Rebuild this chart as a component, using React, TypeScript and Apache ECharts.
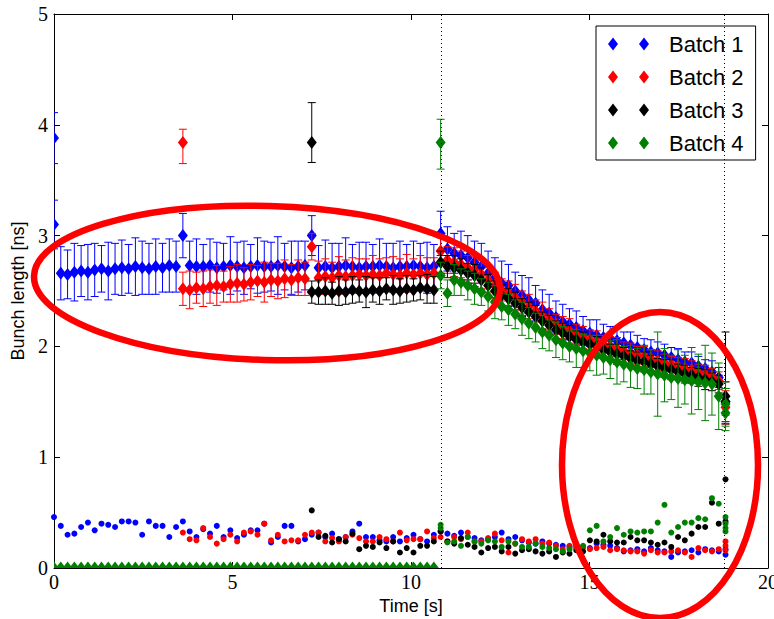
import React, { useEffect, useRef } from 'react';
import * as echarts from 'echarts';

// Sampling period of the bunch-length measurement [s]
const DT = 0.19;

// Dotted markers on the time axis [s]
const dottedTimes = [10.84, 18.77];

// ---- Batch 1 (from sample 0) ----
const batch1Start = 0;
const batch1Length = [
  3.10,
  2.66, 2.65, 2.67, 2.68, 2.67, 2.69, 2.70, 2.68, 2.70, 2.71, 2.70, 2.72, 2.71, 2.70, 2.72, 2.71, 2.73, 2.72,
  3.00,
  2.73, 2.72, 2.72, 2.73, 2.71, 2.72, 2.73, 2.72, 2.71, 2.72, 2.73, 2.72, 2.72, 2.73, 2.72, 2.71, 2.72, 2.73,
  3.00,
  2.71, 2.72, 2.71, 2.72, 2.73, 2.72, 2.71, 2.72, 2.72, 2.73, 2.72, 2.71, 2.72, 2.72, 2.73, 2.72, 2.71, 2.72,
  3.02,
  2.88, 2.84, 2.82, 2.80, 2.76, 2.72, 2.66, 2.62, 2.57, 2.55, 2.50, 2.46, 2.42, 2.39, 2.33, 2.30, 2.26, 2.22, 2.20, 2.17,
  2.14, 2.12, 2.10, 2.08, 2.07, 2.05, 2.03, 2.01, 1.99, 1.97, 1.95, 1.94, 1.92, 1.90, 1.88, 1.86, 1.85, 1.82, 1.80, 1.77,
  1.72,
  1.50,
];
const batch1Err = [
  0.22,
  0.24, 0.22, 0.26, 0.23, 0.25, 0.24, 0.21, 0.26, 0.23, 0.25, 0.22, 0.26, 0.24, 0.23, 0.25, 0.22, 0.24, 0.23,
  0.20,
  0.22, 0.25, 0.20, 0.24, 0.23, 0.21, 0.26, 0.22, 0.24, 0.20, 0.25, 0.23, 0.22, 0.26, 0.21, 0.24, 0.23, 0.22,
  0.18,
  0.20, 0.24, 0.22, 0.21, 0.25, 0.20, 0.23, 0.22, 0.20, 0.24, 0.21, 0.22, 0.23, 0.20, 0.22, 0.21, 0.23, 0.20,
  0.20,
  0.20, 0.18, 0.22, 0.20, 0.19, 0.21, 0.20, 0.18, 0.20, 0.19, 0.17, 0.18, 0.20, 0.16, 0.18, 0.17, 0.15, 0.16, 0.14, 0.15,
  0.13, 0.12, 0.14, 0.12, 0.11, 0.12, 0.10, 0.12, 0.11, 0.10, 0.11, 0.10, 0.10, 0.09, 0.10, 0.09, 0.10, 0.09, 0.08, 0.10,
  0.09,
  0.12,
];
// [sample index, value, error down, error up]
const batch1Extra = [[0, 3.88, 0.23, 0.23]];
const batch1Spread = [
  0.46, 0.38, 0.30, 0.31, 0.37, 0.41, 0.34, 0.40, 0.39, 0.37,
  0.42, 0.42, 0.41, 0.30, 0.42, 0.38, 0.38, 0.28, 0.37, 0.42,
  0.33, 0.28, 0.35, 0.31, 0.38, 0.28, 0.34, 0.27, 0.30, 0.34,
  0.34, 0.40, 0.23, 0.28, 0.38, 0.38, 0.24, 0.26, 0.30, 0.32,
  0.28, 0.31, 0.26, 0.28, 0.33, 0.40, 0.28, 0.28, 0.25, 0.24,
  0.28, 0.24, 0.27, 0.30, 0.26, 0.24, 0.30, 0.33, 0.31, 0.29,
  0.32, 0.28, 0.27, 0.25, 0.26, 0.28, 0.32, 0.26, 0.28, 0.25,
  0.23, 0.22, 0.24, 0.22, 0.21, 0.20, 0.19, 0.21, 0.19, 0.18,
  0.22, 0.21, 0.20, 0.18, 0.15, 0.16, 0.17, 0.15, 0.18, 0.16,
  0.15, 0.10, 0.14, 0.15, 0.16, 0.14, 0.17, 0.16, 0.15, 0.12,
];
const batch1SpreadExtra = [[99, 0.17]];

// ---- Batch 2 (from sample 19) ----
const batch2Start = 19;
const batch2Length = [
  2.52, 2.51, 2.53, 2.52, 2.54, 2.55, 2.54, 2.56, 2.57, 2.56, 2.58, 2.59, 2.58, 2.60, 2.59, 2.61, 2.60, 2.62, 2.61,
  2.90,
  2.62, 2.63, 2.62, 2.64, 2.63, 2.64, 2.65, 2.64, 2.65, 2.64, 2.66, 2.65, 2.64, 2.66, 2.65, 2.66, 2.65, 2.66,
  2.86,
  2.78, 2.76, 2.74, 2.71, 2.69, 2.65, 2.60, 2.55, 2.51, 2.48, 2.44, 2.40, 2.36, 2.32, 2.28, 2.24, 2.20, 2.17, 2.14, 2.11,
  2.08, 2.06, 2.04, 2.02, 2.00, 1.98, 1.96, 1.94, 1.92, 1.91, 1.89, 1.87, 1.85, 1.84, 1.82, 1.80, 1.79, 1.77, 1.75, 1.73,
  1.69,
  1.45,
];
const batch2Err = [
  0.15, 0.17, 0.14, 0.16, 0.15, 0.18, 0.14, 0.16, 0.17, 0.15, 0.16, 0.14, 0.18, 0.15, 0.16, 0.17, 0.14, 0.16, 0.15,
  0.12,
  0.15, 0.16, 0.14, 0.17, 0.15, 0.16, 0.14, 0.15, 0.17, 0.15, 0.14, 0.16, 0.15, 0.17, 0.14, 0.16, 0.15, 0.14,
  0.12,
  0.12, 0.13, 0.12, 0.11, 0.12, 0.13, 0.11, 0.12, 0.10, 0.11, 0.12, 0.10, 0.11, 0.10, 0.12, 0.10, 0.09, 0.10, 0.11, 0.09,
  0.10, 0.09, 0.10, 0.08, 0.09, 0.10, 0.08, 0.09, 0.08, 0.09, 0.08, 0.09, 0.08, 0.07, 0.08, 0.09, 0.08, 0.07, 0.08, 0.07,
  0.08,
  0.15,
];
const batch2Extra = [[19, 3.84, 0.19, 0.12]];
const batch2Spread = [
  0.32, 0.26, 0.25, 0.36, 0.28, 0.22, 0.26, 0.30, 0.24, 0.32,
  0.33, 0.30, 0.40, 0.25, 0.30, 0.24, 0.25, 0.25, 0.30, 0.32,
  0.32, 0.24, 0.27, 0.24, 0.28, 0.30, 0.27, 0.24, 0.24, 0.28,
  0.26, 0.24, 0.32, 0.25, 0.26, 0.26, 0.33, 0.27, 0.28, 0.24,
  0.28, 0.26, 0.32, 0.24, 0.24, 0.27, 0.31, 0.25, 0.14, 0.22,
  0.26, 0.24, 0.26, 0.22, 0.23, 0.20, 0.17, 0.20, 0.18, 0.19,
  0.17, 0.18, 0.19, 0.16, 0.17, 0.16, 0.15, 0.15, 0.13, 0.16,
  0.14, 0.14, 0.15, 0.16, 0.14, 0.10, 0.18, 0.16, 0.15, 0.17,
  0.20,
];
const batch2SpreadExtra = [[99, 0.16], [99, 0.24]];

// ---- Batch 3 (from sample 38) ----
const batch3Start = 38;
const batch3Length = [
  2.49,
  2.49, 2.50, 2.48, 2.50, 2.49, 2.51, 2.50, 2.49, 2.51, 2.50, 2.52, 2.51, 2.50, 2.52, 2.51, 2.53, 2.52, 2.51,
  2.76,
  2.72, 2.71, 2.69, 2.66, 2.64, 2.60, 2.55, 2.50, 2.46, 2.43, 2.39, 2.35, 2.31, 2.27, 2.23, 2.19, 2.15, 2.12, 2.09, 2.06,
  2.04, 2.02, 2.00, 1.97, 1.95, 1.93, 1.91, 1.89, 1.87, 1.86, 1.84, 1.82, 1.80, 1.79, 1.77, 1.75, 1.74, 1.72, 1.70, 1.68,
  1.66,
  1.50,
];
const batch3Err = [
  0.10,
  0.11, 0.12, 0.10, 0.13, 0.11, 0.12, 0.10, 0.14, 0.11, 0.12, 0.10, 0.13, 0.11, 0.12, 0.10, 0.11, 0.13, 0.12,
  0.10,
  0.10, 0.11, 0.10, 0.09, 0.10, 0.11, 0.10, 0.09, 0.10, 0.09, 0.10, 0.08, 0.09, 0.10, 0.08, 0.09, 0.08, 0.09, 0.10, 0.08,
  0.09, 0.08, 0.09, 0.08, 0.07, 0.09, 0.08, 0.07, 0.08, 0.09, 0.08, 0.07, 0.08, 0.09, 0.07, 0.08, 0.07, 0.08, 0.09, 0.08,
  0.08,
  0.18,
];
const batch3Extra = [[38, 3.84, 0.18, 0.36], [99, 1.55, 0.25, 0.58]];
const batch3Spread = [
  0.52, 0.28, 0.29, 0.23, 0.26, 0.24, 0.31, 0.17, 0.20, 0.19,
  0.23, 0.18, 0.24, 0.14, 0.18, 0.14, 0.20, 0.20, 0.24, 0.33,
  0.24, 0.22, 0.27, 0.21, 0.19, 0.14, 0.18, 0.19, 0.15, 0.19,
  0.13, 0.16, 0.17, 0.15, 0.13, 0.15, 0.10, 0.14, 0.13, 0.16,
  0.15, 0.25, 0.24, 0.30, 0.24, 0.23, 0.23, 0.28, 0.25, 0.25,
  0.23, 0.21, 0.23, 0.19, 0.28, 0.25, 0.31, 0.37, 0.37, 0.59,
  0.40, 0.80,
];
const batch3SpreadExtra = [[99, 0.42]];

// ---- Batch 4 (zero until injection at sample 57) ----
const batch4Start = 0;
const batch4Length = [
  0, 0, 0, 0, 0, 0, 0, 0, 0, 0, 0, 0, 0, 0, 0, 0, 0, 0, 0, 0,
  0, 0, 0, 0, 0, 0, 0, 0, 0, 0, 0, 0, 0, 0, 0, 0, 0, 0, 0, 0,
  0, 0, 0, 0, 0, 0, 0, 0, 0, 0, 0, 0, 0, 0, 0, 0, 0,
  2.64,
  2.48, 2.60, 2.58, 2.55, 2.52, 2.49, 2.45, 2.40, 2.36, 2.33, 2.29, 2.25, 2.21, 2.17, 2.13, 2.10, 2.06, 2.03, 2.00, 1.98,
  1.96, 1.94, 1.92, 1.90, 1.88, 1.86, 1.84, 1.82, 1.80, 1.79, 1.77, 1.75, 1.74, 1.72, 1.71, 1.70, 1.69, 1.68, 1.67, 1.66,
  1.55,
  1.48,
];
const batch4Err = [
  0, 0, 0, 0, 0, 0, 0, 0, 0, 0, 0, 0, 0, 0, 0, 0, 0, 0, 0, 0,
  0, 0, 0, 0, 0, 0, 0, 0, 0, 0, 0, 0, 0, 0, 0, 0, 0, 0, 0, 0,
  0, 0, 0, 0, 0, 0, 0, 0, 0, 0, 0, 0, 0, 0, 0, 0, 0,
  0.12,
  0.12, 0.14, 0.12, 0.13, 0.14, 0.12, 0.13, 0.15, 0.12, 0.14, 0.13, 0.15, 0.14, 0.13, 0.15, 0.14, 0.16, 0.15, 0.14, 0.17,
  0.15, 0.16, 0.18, 0.15, 0.17, 0.20, 0.16, 0.19, 0.18, 0.22, 0.20, 0.38, 0.24, 0.20, 0.26, 0.22, 0.30, 0.25, 0.34, 0.28,
  0.30,
  0.20,
];
const batch4Extra = [[57, 3.84, 0.24, 0.21], [99, 1.40, 0.16, 0.22]];
const batch4SpreadStart = 57;
const batch4Spread = [
  0.39, 0.23, 0.24, 0.20, 0.28, 0.24, 0.22, 0.25, 0.24, 0.19,
  0.24, 0.22, 0.19, 0.19, 0.22, 0.19, 0.18, 0.17, 0.15, 0.17,
  0.19, 0.20, 0.34, 0.38, 0.24, 0.28, 0.36, 0.30, 0.33, 0.32,
  0.33, 0.33, 0.41, 0.57, 0.32, 0.37, 0.41, 0.41, 0.45, 0.44,
  0.63, 0.58, 0.40,
];
const batch4SpreadExtra = [[57, 0.36], [99, 0.33], [99, 0.46], [99, 0.36]];

const batches = [
  { name: 'Batch 1', color: '#0000ff', start: batch1Start, length: batch1Length, err: batch1Err, extra: batch1Extra, spreadStart: batch1Start, spread: batch1Spread, spreadExtra: batch1SpreadExtra },
  { name: 'Batch 2', color: '#ff0000', start: batch2Start, length: batch2Length, err: batch2Err, extra: batch2Extra, spreadStart: batch2Start, spread: batch2Spread, spreadExtra: batch2SpreadExtra },
  { name: 'Batch 3', color: '#000000', start: batch3Start, length: batch3Length, err: batch3Err, extra: batch3Extra, spreadStart: batch3Start, spread: batch3Spread, spreadExtra: batch3SpreadExtra },
  { name: 'Batch 4', color: '#008000', start: batch4Start, length: batch4Length, err: batch4Err, extra: batch4Extra, spreadStart: batch4SpreadStart, spread: batch4Spread, spreadExtra: batch4SpreadExtra },
];

const sampleTime = (i: number) => Math.round(i * DT * 1000) / 1000;

// Legend marker: two thin diamonds side by side
const TWO_DIAMONDS = 'path://M5,0L10,6.5L5,13L0,6.5Z M36,0L41,6.5L36,13L31,6.5Z';

const SERIF = 'Liberation Serif';
const SANS = 'Liberation Sans';

function buildOption() {
  const series: any[] = [];
  batches.forEach((b) => {
    const pts: number[][] = b.length.map((v, k) => [sampleTime(b.start + k), v, b.err[k], b.err[k]]);
    b.extra.forEach(([i, v, dn, up]) => pts.push([sampleTime(i), v, dn, up]));

    // error bars with caps
    series.push({
      type: 'custom',
      name: b.name,
      clip: true,
      silent: true,
      itemStyle: { color: b.color },
      encode: { x: 0, y: 1 },
      data: pts,
      renderItem: (_p: any, api: any) => {
        const t = api.value(0);
        const v = api.value(1);
        const dn = api.value(2);
        const up = api.value(3);
        if (!(dn > 0 || up > 0)) return { type: 'group', children: [] };
        const top = api.coord([t, v + up]);
        const bot = api.coord([t, v - dn]);
        const style = { stroke: b.color, lineWidth: 1 };
        const cap = 4;
        return {
          type: 'group',
          children: [
            { type: 'line', shape: { x1: top[0], y1: top[1], x2: bot[0], y2: bot[1] }, style },
            { type: 'line', shape: { x1: top[0] - cap, y1: top[1], x2: top[0] + cap, y2: top[1] }, style },
            { type: 'line', shape: { x1: bot[0] - cap, y1: bot[1], x2: bot[0] + cap, y2: bot[1] }, style },
          ],
        };
      },
    });

    // thin diamond markers
    series.push({
      type: 'custom',
      name: b.name,
      clip: true,
      silent: true,
      itemStyle: { color: b.color },
      encode: { x: 0, y: 1 },
      data: pts,
      renderItem: (_p: any, api: any) => {
        const c = api.coord([api.value(0), api.value(1)]);
        const hw = 5;
        const hh = 6.5;
        return {
          type: 'polygon',
          shape: { points: [[c[0], c[1] - hh], [c[0] + hw, c[1]], [c[0], c[1] + hh], [c[0] - hw, c[1]]] },
          style: { fill: b.color, stroke: 'none' },
        };
      },
    });
  });

  // bunch length spread as small dots
  batches.forEach((b, idx) => {
    const pts: number[][] = b.spread.map((v, k) => [sampleTime(b.spreadStart + k), v]);
    b.spreadExtra.forEach(([i, v]) => pts.push([sampleTime(i), v]));
    const s: any = {
      type: 'scatter',
      name: b.name,
      symbol: 'circle',
      symbolSize: 6,
      silent: true,
      itemStyle: { color: b.color, opacity: 1 },
      data: pts,
    };
    if (idx === 0) {
      s.markLine = {
        silent: true,
        symbol: ['none', 'none'],
        label: { show: false },
        lineStyle: { color: '#000', width: 1, type: [1, 3] },
        data: dottedTimes.map((t) => ({ xAxis: t })),
      };
    }
    series.push(s);
  });

  const axisLine = { show: true, onZero: false, lineStyle: { color: '#000', width: 1 } };
  const axisTick = { show: true, inside: true, length: 6, lineStyle: { color: '#000', width: 1 } };

  return {
    animation: false,
    backgroundColor: '#fff',
    grid: { left: 54, right: 6, top: 14, bottom: 51, outerBoundsMode: 'none', containLabel: false },
    xAxis: [
      {
        type: 'value', min: 0, max: 20, interval: 5, position: 'bottom',
        name: 'Time [s]', nameLocation: 'middle', nameGap: 20,
        nameTextStyle: { fontFamily: SANS, fontSize: 18, color: '#000' },
        axisLine, axisTick,
        axisLabel: { fontFamily: SERIF, fontSize: 20, color: '#000', margin: 4 },
        splitLine: { show: false },
      },
      {
        type: 'value', min: 0, max: 20, interval: 5, position: 'top',
        axisLine, axisTick, axisLabel: { show: false }, splitLine: { show: false },
      },
    ],
    yAxis: [
      {
        type: 'value', min: 0, max: 5, interval: 1, position: 'left',
        name: 'Bunch length [ns]', nameLocation: 'middle', nameGap: 27,
        nameTextStyle: { fontFamily: SANS, fontSize: 18, color: '#000' },
        axisLine, axisTick,
        axisLabel: { fontFamily: SERIF, fontSize: 20, color: '#000', margin: 6 },
        splitLine: { show: false },
      },
      {
        type: 'value', min: 0, max: 5, interval: 1, position: 'right',
        axisLine, axisTick, axisLabel: { show: false }, splitLine: { show: false },
      },
    ],
    legend: {
      left: 596, top: 26, orient: 'vertical',
      padding: [6, 12, 5, 12], itemGap: 9, itemWidth: 41, itemHeight: 13,
      borderColor: '#000', borderWidth: 1, borderRadius: 0, backgroundColor: '#fff',
      selectedMode: false,
      textStyle: { fontFamily: SANS, fontSize: 22, lineHeight: 24, color: '#000', padding: [0, 0, 0, 15] },
      data: batches.map((b) => ({ name: b.name, icon: TWO_DIAMONDS, itemStyle: { color: b.color } })),
    },
    graphic: [
      {
        type: 'ellipse', x: 267, y: 283, rotation: -0.03, z: 100, silent: true,
        shape: { cx: 0, cy: 0, rx: 233, ry: 77 },
        style: { fill: 'none', stroke: '#ff0000', lineWidth: 6.5 },
      },
      {
        type: 'ellipse', x: 660, y: 465, z: 100, silent: true,
        shape: { cx: 0, cy: 0, rx: 98, ry: 153 },
        style: { fill: 'none', stroke: '#ff0000', lineWidth: 6.5 },
      },
    ],
    series,
  };
}

export default function App() {
  const ref = useRef<HTMLDivElement>(null);
  useEffect(() => {
    if (!ref.current) return;
    const chart = echarts.init(ref.current, undefined, { renderer: 'svg' });
    chart.setOption(buildOption() as any);
    return () => chart.dispose();
  }, []);
  return <div ref={ref} style={{ position: 'absolute', left: 0, top: 0, width: 774, height: 619 }} />;
}
